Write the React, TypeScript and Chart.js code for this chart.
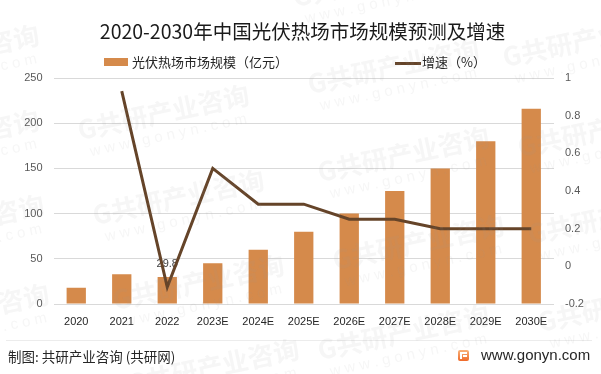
import React, { useEffect, useRef } from "react";
import { Chart, registerables } from "chart.js";

Chart.register(...registerables);

const categories = ["2020", "2021", "2022", "2023E", "2024E", "2025E", "2026E", "2027E", "2028E", "2029E", "2030E"];
const marketSize = [18, 33, 29.8, 45, 60, 80, 100, 125, 150, 180, 216];
const growthRate = [null, 0.93, -0.11, 0.52, 0.33, 0.33, 0.25, 0.25, 0.2, 0.2, 0.2];
const labeledIndexes = [2];

const titleText = "2020-2030年中国光伏热场市场规模预测及增速";
const barLegend = "光伏热场市场规模（亿元）";
const lineLegend = "增速（%）";
const sourceText = "制图: 共研产业咨询 (共研网)";
const siteText = "www.gonyn.com";
const watermarkMain = "G共研产业咨询";
const watermarkSub = "w w w . g o n y n . c o m";

// watermark tile centres (layout only)
const watermarkSpots: [number, number][] = [
  [-45, 58], [-45, 143], [-40, 228], [-35, 317],
  [165, 118], [180, 203], [200, 288], [215, 372],
  [380, -15], [395, 72], [405, 160], [420, 248], [405, 338],
  [590, 45], [605, 135], [615, 222], [625, 310],
];

const BAR_COLOR = "#D58A4B";
const LINE_COLOR = "#654429";
const FONT = "'Noto Sans CJK SC', 'Noto Sans', sans-serif";
const AXIS_FONT = "'Liberation Sans', 'Noto Sans', sans-serif";

const barLabelPlugin = {
  id: "barLabel",
  afterDatasetDraw(chart: any, args: any) {
    if (args.index !== 0) return;
    const meta = chart.getDatasetMeta(0);
    const ctx = chart.ctx;
    labeledIndexes.forEach((i) => {
      const el = meta.data[i];
      if (!el) return;
      ctx.save();
      ctx.font = `11px ${AXIS_FONT}`;
      ctx.fillStyle = "#404040";
      ctx.textAlign = "center";
      ctx.textBaseline = "middle";
      ctx.fillText(String(marketSize[i]), el.x, el.y - 13);
      ctx.restore();
    });
  },
};

export default function App() {
  const canvasRef = useRef<HTMLCanvasElement | null>(null);

  useEffect(() => {
    if (!canvasRef.current) return;
    const chart = new Chart(canvasRef.current, {
      type: "bar",
      data: {
        labels: categories,
        datasets: [
          {
            type: "bar",
            label: barLegend,
            data: marketSize,
            backgroundColor: BAR_COLOR,
            yAxisID: "y",
            categoryPercentage: 1,
            barPercentage: 0.424,
            order: 2,
          },
          {
            type: "line",
            label: lineLegend,
            data: growthRate as any,
            borderColor: LINE_COLOR,
            backgroundColor: LINE_COLOR,
            borderWidth: 3,
            pointRadius: 0,
            tension: 0,
            yAxisID: "y1",
            order: 1,
          },
        ],
      },
      options: {
        responsive: false,
        animation: false,
        devicePixelRatio: 1,
        layout: { padding: { left: 8, right: 0, top: 78, bottom: 0 } },
        plugins: {
          legend: { display: false },
          title: { display: false },
          tooltip: { enabled: false },
        },
        scales: {
          x: {
            grid: { display: false, drawTicks: false },
            border: { display: false },
            ticks: {
              color: "#262626",
              font: { family: AXIS_FONT, size: 11 },
              padding: 11,
              maxRotation: 0,
            },
            afterFit: (scale: any) => {
              scale.height = 70;
            },
          },
          y: {
            position: "left",
            min: 0,
            max: 250,
            ticks: {
              stepSize: 50,
              color: "#595959",
              font: { family: AXIS_FONT, size: 11 },
              padding: 11,
            },
            grid: { color: "#d9d9d9", lineWidth: 1, drawTicks: false },
            border: { display: false },
            afterFit: (scale: any) => {
              scale.width = 45.5;
            },
          },
          y1: {
            position: "right",
            min: -0.2,
            max: 1,
            ticks: {
              stepSize: 0.2,
              color: "#595959",
              font: { family: AXIS_FONT, size: 11 },
              padding: 11,
              callback: (v: any) => String(Math.round(Number(v) * 10) / 10),
            },
            grid: { display: false, drawTicks: false },
            border: { display: false },
            afterFit: (scale: any) => {
              scale.width = 47;
            },
          },
        },
      },
      plugins: [barLabelPlugin],
    });
    return () => chart.destroy();
  }, []);

  return (
    <div
      style={{
        position: "absolute",
        left: 0,
        top: 0,
        width: 601,
        height: 374,
        background: "#ffffff",
        overflow: "hidden",
        fontFamily: FONT,
      }}
    >
      <canvas ref={canvasRef} width={601} height={374} style={{ position: "absolute", left: 0, top: 0 }} />
      <div
        style={{
          position: "absolute",
          left: 0,
          top: 18,
          width: 601,
          textAlign: "center",
          fontSize: 19.5,
          lineHeight: "26px",
          color: "#1a1a1a",
          paddingLeft: 2,
        }}
      >
        {titleText}
      </div>
      <div style={{ position: "absolute", left: 104, top: 58, width: 24, height: 8, background: BAR_COLOR }} />
      <div style={{ position: "absolute", left: 132, top: 53, fontSize: 13, lineHeight: "18px", color: "#262626" }}>
        {barLegend}
      </div>
      <div style={{ position: "absolute", left: 395, top: 62, width: 26, height: 3, background: LINE_COLOR }} />
      <div style={{ position: "absolute", left: 422, top: 53, fontSize: 13, lineHeight: "18px", color: "#262626" }}>
        {lineLegend}
      </div>
      <div style={{ position: "absolute", left: 6, top: 340, width: 586, height: 1, background: "#ececec" }} />
      <div style={{ position: "absolute", left: 8, top: 346, fontSize: 13.5, lineHeight: "20px", color: "#262626" }}>
        {sourceText}
      </div>
      <div
        style={{
          position: "absolute",
          left: 458,
          top: 350,
          width: 11,
          height: 11,
          borderRadius: 2,
          background: "linear-gradient(180deg, #f9b27a, #ef6a2a)",
        }}
      >
        <div style={{ position: "absolute", left: 2, top: 2, width: 7, height: 2, background: "#fff" }} />
        <div style={{ position: "absolute", left: 2, top: 2, width: 2, height: 7, background: "#fff" }} />
        <div style={{ position: "absolute", left: 5, top: 5, width: 4, height: 2, background: "#fff" }} />
      </div>
      <div
        style={{
          position: "absolute",
          left: 481,
          top: 345,
          fontSize: 15,
          lineHeight: "20px",
          color: "#262626",
          fontFamily: AXIS_FONT,
        }}
      >
        {siteText}
      </div>
      {watermarkSpots.map(([cx, cy], i) => (
        <div
          key={i}
          style={{
            position: "absolute",
            left: cx - 100,
            top: cy - 22,
            width: 200,
            textAlign: "center",
            transform: "rotate(-12deg)",
            color: "rgba(150,150,150,0.09)",
            pointerEvents: "none",
            whiteSpace: "nowrap",
          }}
        >
          <div style={{ fontSize: 26, fontWeight: 700, lineHeight: "30px" }}>{watermarkMain}</div>
          <div style={{ fontSize: 15, lineHeight: "18px", fontFamily: AXIS_FONT }}>{watermarkSub}</div>
        </div>
      ))}
    </div>
  );
}
